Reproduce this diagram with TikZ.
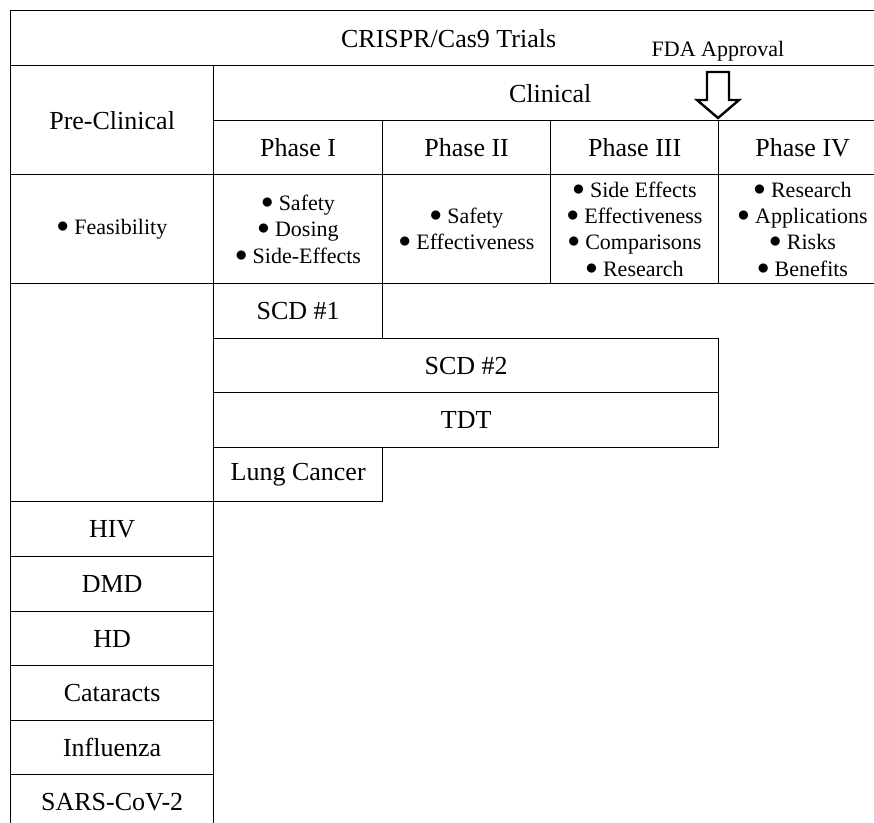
\documentclass[tikz,border=0pt]{standalone}
\usepackage{fontspec}
\setmainfont{Liberation Serif}
\tikzset{
  cell/.style={draw=black, line width=1.3pt, inner sep=0pt, anchor=north west, align=center,
    font=\fontsize{26}{30}\selectfont},
  bul/.style={cell, font=\fontsize{22}{26.4}\selectfont},
  arrowbox/.style={draw=black, line width=2.4pt, fill=white, line join=miter},
}
\newcommand{\bu}{\smash{\raisebox{2pt}{\scalebox{1.15}{$\bullet$}}}\ }
\newcommand{\mycell}[7][cell]{%
  \node[#1, minimum width=#4pt-#2pt, minimum height=#5pt-#3pt] (#6) at (#2,#3) {#7};}
\begin{document}
\begin{tikzpicture}[x=1pt,y=-1pt]
\clip (0,0) rectangle (874,822);
\fill[white] (0,0) rectangle (874,822);
% header
\mycell{10}{10}{886}{65}{title}{\raisebox{-1.5pt}{CRISPR/Cas9 Trials}}
\mycell{10}{65}{213}{174}{pre}{Pre-Clinical}
\mycell{213}{65}{886}{120}{clin}{Clinical}
\mycell{213}{120}{382}{174}{p1}{Phase I}
\mycell{382}{120}{550}{174}{p2}{Phase II}
\mycell{550}{120}{718}{174}{p3}{Phase III}
\mycell{718}{120}{886}{174}{p4}{Phase IV}
% bullets row
\mycell[bul]{10}{174}{213}{283}{b0}{\bu Feasibility}
\mycell[bul]{213}{174}{382}{283}{b1}{\bu Safety\\\bu Dosing\\\bu Side-Effects}
\mycell[bul]{382}{174}{550}{283}{b2}{\bu Safety\\\bu Effectiveness}
\mycell[bul]{550}{174}{718}{283}{b3}{\bu Side Effects\\\bu Effectiveness\\\bu Comparisons\\\bu Research}
\mycell[bul]{718}{174}{886}{283}{b4}{\bu Research\\\bu Applications\\\bu Risks\\\bu Benefits}
% clinical trials
\mycell{10}{283}{213}{501}{empty}{}
\mycell{213}{283}{382}{338}{scd1}{SCD \#1}
\mycell{213}{338}{718}{392}{scd2}{SCD \#2}
\mycell{213}{392}{718}{447}{tdt}{TDT}
\mycell{213}{447}{382}{501}{lung}{Lung Cancer}
% pre-clinical
\mycell{10}{501}{213}{556}{hiv}{HIV}
\mycell{10}{556}{213}{611}{dmd}{DMD}
\mycell{10}{611}{213}{665}{hd}{HD}
\mycell{10}{665}{213}{720}{cat}{Cataracts}
\mycell{10}{720}{213}{774}{flu}{Influenza}
\mycell{10}{774}{213}{829}{sars}{SARS-CoV-2}
% FDA approval
\node[anchor=base, font=\fontsize{22}{26}\selectfont, inner sep=0pt] (fda) at (718,56.5) {FDA Approval};
\coordinate (tip) at (718,118);
\draw[arrowbox] (707,72) -- (729,72) -- (729,100) -- (739,100) -- (tip) -- (697,100) -- (707,100) -- cycle;
\end{tikzpicture}
\end{document}
